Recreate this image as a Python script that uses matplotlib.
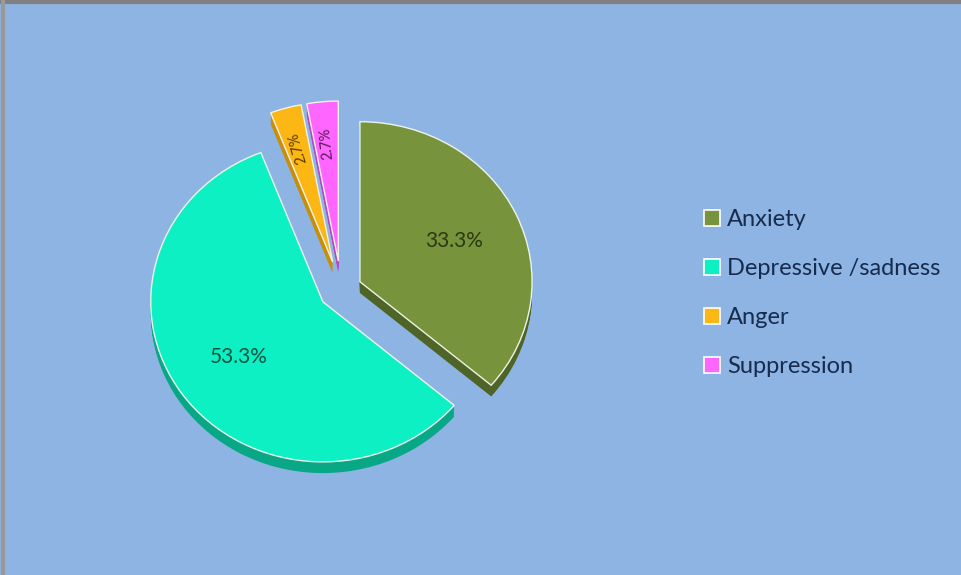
import matplotlib
matplotlib.use("Agg")
import matplotlib.pyplot as plt
from matplotlib.patches import Rectangle
from matplotlib.lines import Line2D
import numpy as np

# Data
categories = ["Anxiety", "Depressive /sadness", "Anger", "Suppression"]
values = [33.3, 53.3, 2.7, 2.7]
value_labels = ["33.3%", "53.3%", "2.7%", "2.7%"]

# Styling
top_colors = ["#77933C", "#0CF0C4", "#FCB714", "#FF66FF"]
side_colors = ["#4F6427", "#08A886", "#C98E08", "#C040C0"]
text_colors = ["#2B3A12", "#0A5444", "#5A3A00", "#5A1858"]
explode = [0.12, 0.13, 0.18, 0.18]
bg = "#8EB4E3"

plt.rcParams["font.family"] = ["Lato", "DejaVu Sans"]

fig = plt.figure(figsize=(9.61, 5.75), dpi=100, facecolor=bg)

# gray frame on top and left edges
fig.add_artist(Line2D([0, 1], [0.9965, 0.9965], transform=fig.transFigure,
                      color="#808080", lw=3))
fig.add_artist(Line2D([0.0035, 0.0035], [0, 1], transform=fig.transFigure,
                      color="#999999", lw=3))

ax = fig.add_axes([0.08, 0.066, 0.55, 0.86])
ax.set_facecolor(bg)
ax.axis("off")

# extruded sides: stack of darker copies shifted downward
depth = 0.07
for off in np.linspace(depth, 0.005, 10):
    ax.pie(values, explode=explode, colors=side_colors, startangle=90,
           counterclock=False, center=(0, -off),
           wedgeprops=dict(linewidth=0, antialiased=True))

wedges, _ = ax.pie(values, explode=explode, colors=top_colors, startangle=90,
                   counterclock=False,
                   wedgeprops=dict(linewidth=1.0, edgecolor="#EEF3E8"))

ax.set_xlim(-1.535, 1.535)
ax.set_ylim(-1.545, 1.545)
ax.set_aspect(0.93, adjustable="datalim")
fig.canvas.draw()

# value labels inside each wedge; narrow wedges get text along the radius
for w, txt, tc, v in zip(wedges, value_labels, text_colors, values):
    mid = np.deg2rad((w.theta1 + w.theta2) / 2)
    cx, cy = w.center
    if v / sum(values) > 0.1:
        r = 0.6 * w.r
        ax.text(cx + r * np.cos(mid), cy + r * np.sin(mid), txt, ha="center",
                va="center", fontsize=15, color=tc)
    else:
        r = 0.74 * w.r
        p0 = ax.transData.transform((cx, cy))
        p1 = ax.transData.transform((cx + np.cos(mid), cy + np.sin(mid)))
        rot = np.degrees(np.arctan2(p1[1] - p0[1], p1[0] - p0[0]))
        ax.text(cx + r * np.cos(mid), cy + r * np.sin(mid), txt, ha="center",
                va="center", fontsize=10.5, color=tc, rotation=rot,
                rotation_mode="anchor")

handles = [Rectangle((0, 0), 1, 1, facecolor=c, edgecolor="white", lw=1.2)
           for c in top_colors]
fig.legend(handles, categories, loc="center left", bbox_to_anchor=(0.71, 0.49),
           frameon=False, fontsize=17, labelcolor="#172B4D",
           handlelength=0.7, handleheight=0.7, handletextpad=0.3,
           labelspacing=1.18)

fig.savefig("out.png", dpi=100, facecolor=bg)
